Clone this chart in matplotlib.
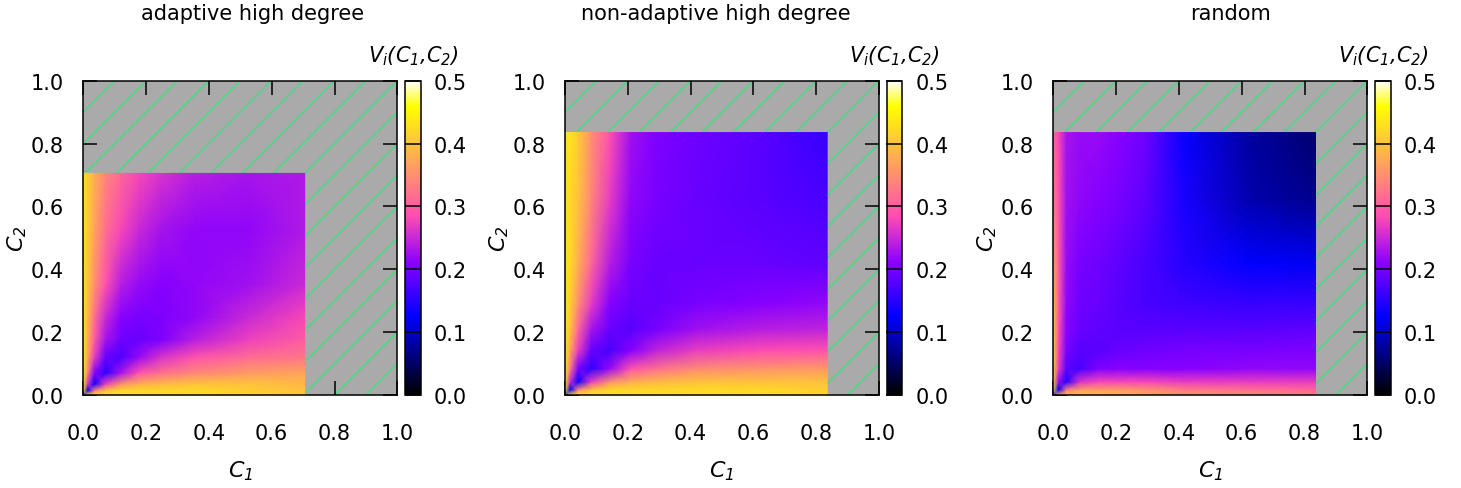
import numpy as np
import matplotlib
matplotlib.use("Agg")
import matplotlib.pyplot as plt

plt.rcParams['font.family'] = ['DejaVu Sans']
plt.rcParams['mathtext.fontset'] = 'custom'
plt.rcParams['mathtext.rm'] = 'DejaVu Sans:italic'
plt.rcParams['mathtext.it'] = 'DejaVu Sans:italic'

titles = ["adaptive high degree", "non-adaptive high degree", "random"]
# size of the filled square in each panel (C1 = C2 = 0 .. size)
sizes = [0.705, 0.835, 0.835]
# grid nodes, as fraction of the filled square
grid_frac = [0, 0.02, 0.05, 0.1, 0.17, 0.25, 0.35, 0.5, 0.75, 1.0]

# V_i(C1,C2) read at the grid nodes, bottom row (C2 = 0) first
v_adaptive = [
    [0.12, 0.42, 0.43, 0.43, 0.43, 0.43, 0.43, 0.43, 0.42, 0.41],
    [0.42, 0.12, 0.33, 0.40, 0.42, 0.42, 0.42, 0.42, 0.41, 0.40],
    [0.43, 0.26, 0.135, 0.27, 0.35, 0.38, 0.39, 0.40, 0.40, 0.39],
    [0.43, 0.34, 0.21, 0.155, 0.23, 0.29, 0.32, 0.34, 0.36, 0.37],
    [0.43, 0.37, 0.27, 0.19, 0.175, 0.22, 0.26, 0.29, 0.315, 0.325],
    [0.43, 0.38, 0.30, 0.23, 0.195, 0.19, 0.205, 0.24, 0.275, 0.30],
    [0.43, 0.39, 0.32, 0.25, 0.21, 0.20, 0.205, 0.215, 0.25, 0.28],
    [0.43, 0.40, 0.35, 0.29, 0.24, 0.22, 0.21, 0.215, 0.225, 0.25],
    [0.43, 0.41, 0.37, 0.32, 0.28, 0.25, 0.23, 0.215, 0.215, 0.235],
    [0.43, 0.41, 0.38, 0.34, 0.31, 0.28, 0.26, 0.24, 0.23, 0.235],
]
v_nonadaptive = [
    [0.12, 0.42, 0.43, 0.43, 0.43, 0.43, 0.43, 0.43, 0.43, 0.42],
    [0.42, 0.12, 0.34, 0.40, 0.42, 0.42, 0.42, 0.42, 0.42, 0.41],
    [0.43, 0.25, 0.135, 0.27, 0.35, 0.38, 0.39, 0.40, 0.40, 0.40],
    [0.43, 0.33, 0.20, 0.155, 0.22, 0.29, 0.32, 0.345, 0.355, 0.36],
    [0.43, 0.37, 0.27, 0.19, 0.17, 0.21, 0.245, 0.27, 0.285, 0.29],
    [0.43, 0.40, 0.31, 0.23, 0.19, 0.18, 0.20, 0.225, 0.24, 0.245],
    [0.43, 0.41, 0.35, 0.27, 0.21, 0.19, 0.19, 0.20, 0.21, 0.215],
    [0.43, 0.42, 0.38, 0.31, 0.24, 0.20, 0.19, 0.19, 0.19, 0.185],
    [0.43, 0.42, 0.40, 0.34, 0.27, 0.215, 0.20, 0.19, 0.18, 0.17],
    [0.43, 0.43, 0.41, 0.35, 0.29, 0.225, 0.205, 0.195, 0.18, 0.16],
]
v_random = [
    [0.12, 0.38, 0.40, 0.40, 0.40, 0.39, 0.37, 0.35, 0.34, 0.33],
    [0.40, 0.12, 0.33, 0.36, 0.36, 0.36, 0.35, 0.33, 0.32, 0.31],
    [0.41, 0.22, 0.15, 0.26, 0.28, 0.28, 0.28, 0.27, 0.27, 0.27],
    [0.41, 0.27, 0.18, 0.17, 0.205, 0.21, 0.21, 0.21, 0.215, 0.215],
    [0.41, 0.28, 0.20, 0.18, 0.18, 0.19, 0.195, 0.20, 0.20, 0.205],
    [0.40, 0.29, 0.21, 0.19, 0.185, 0.18, 0.18, 0.18, 0.18, 0.185],
    [0.39, 0.30, 0.215, 0.195, 0.19, 0.18, 0.17, 0.165, 0.16, 0.16],
    [0.37, 0.30, 0.22, 0.20, 0.195, 0.185, 0.17, 0.15, 0.125, 0.12],
    [0.33, 0.29, 0.225, 0.215, 0.21, 0.20, 0.185, 0.14, 0.085, 0.07],
    [0.31, 0.28, 0.23, 0.22, 0.22, 0.21, 0.195, 0.13, 0.08, 0.055],
]
values = [v_adaptive, v_nonadaptive, v_random]

ticks = [0.0, 0.2, 0.4, 0.6, 0.8, 1.0]
cb_ticks = [0.0, 0.1, 0.2, 0.3, 0.4, 0.5]

W, H = 1461, 489
fig = plt.figure(figsize=(W / 100, H / 100), dpi=100)

ax_left = [83.3, 565.0, 1053.3]
cb_left = [405.0, 886.7, 1375.0]
title_x = [253, 716, 1230]
top, bottom = 81.7, 396.0
side = 314.0

for k in range(3):
    ax = fig.add_axes([ax_left[k] / W, 1 - bottom / H, side / W, (bottom - top) / H])
    cax = fig.add_axes([cb_left[k] / W, 1 - bottom / H, 15.7 / W, (bottom - top) / H])

    # hatched background outside the computed region
    ax.set_facecolor('#aaaaaa')
    for c in np.arange(-1.0, 1.01, 0.1):
        ax.plot([0, 1], [c, c + 1], color='#3fdf7f', lw=1.0, zorder=1)

    g = np.array(grid_frac) * sizes[k]
    X, Y = np.meshgrid(g, g)
    mesh = ax.pcolormesh(X, Y, np.array(values[k]), shading='gouraud',
                         cmap='gnuplot2', vmin=0, vmax=0.5, zorder=2)

    ax.set_xlim(0, 1)
    ax.set_ylim(0, 1)
    ax.set_xticks(ticks)
    ax.set_yticks(ticks)
    ax.set_xticklabels(["%.1f" % t for t in ticks])
    ax.set_yticklabels(["%.1f" % t for t in ticks])
    ax.tick_params(direction='in', length=10, width=1.1, top=True, right=True,
                   labelsize=15)
    ax.tick_params(axis='x', pad=20)
    ax.tick_params(axis='y', pad=14)
    for s in ax.spines.values():
        s.set_linewidth(1.1)
        s.set_zorder(5)

    ax.text(0.5, -0.239, "$C_1$", transform=ax.transAxes, ha='center', va='center',
            fontsize=16)
    ax.text(-0.211, 0.5, "$C_2$", transform=ax.transAxes, ha='center', va='center',
            rotation=90, fontsize=16)

    cb = fig.colorbar(mesh, cax=cax, ticks=cb_ticks)
    cb.ax.set_yticklabels(["%.1f" % t for t in cb_ticks])
    cb.ax.tick_params(direction='in', length=11.3, width=1.1, labelsize=15, pad=9.5)
    cb.outline.set_linewidth(1.1)
    cax.text(0.5, 1.082, "$V_i(C_1{,}C_2)$", transform=cax.transAxes,
             ha='center', va='center', fontsize=15)

    fig.text(title_x[k] / W, 1 - 13.5 / H, titles[k], ha='center', va='center',
             fontsize=15)

fig.savefig("out.png", dpi=100)
